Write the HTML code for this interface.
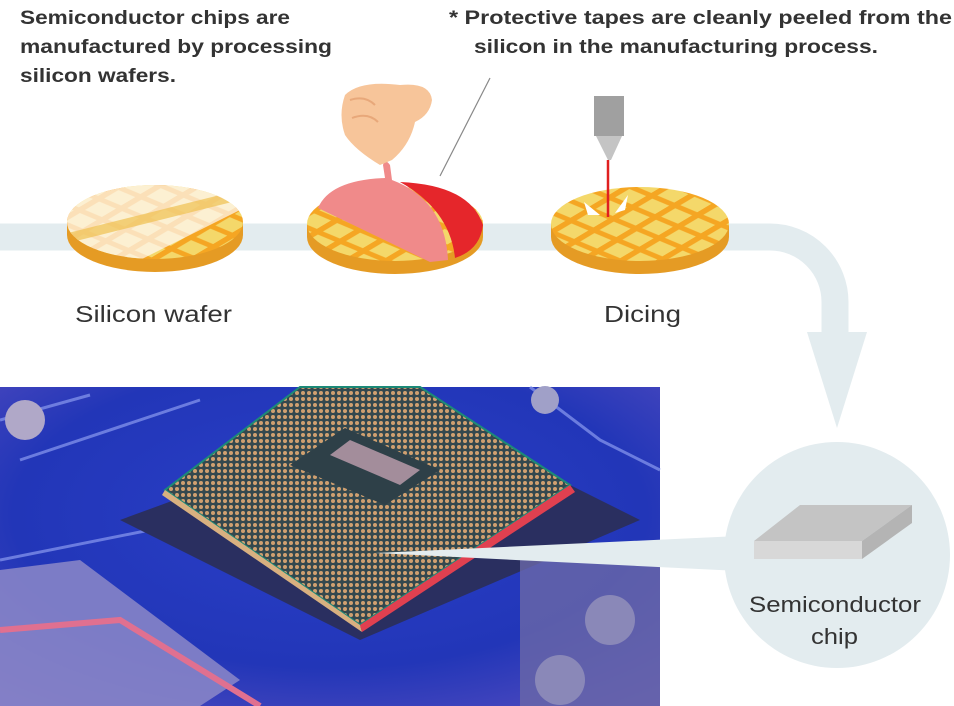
<!DOCTYPE html>
<html><head><meta charset="utf-8"><style>
body{margin:0;width:954px;height:706px;overflow:hidden;background:#fff;font-family:"Liberation Sans","DejaVu Sans",sans-serif}
svg{display:block}
</style></head><body>
<svg width="954" height="706" viewBox="0 0 954 706" xmlns="http://www.w3.org/2000/svg">
<defs>
<pattern id="grid" width="30" height="30" patternUnits="userSpaceOnUse" patternTransform="scale(1,0.5) rotate(40)">
<rect width="30" height="30" fill="#f5a623"/><rect x="5" y="5" width="22" height="22" fill="#f4d86a"/></pattern>
<pattern id="gridl" width="30" height="30" patternUnits="userSpaceOnUse" patternTransform="scale(1,0.5) rotate(40)">
<rect width="30" height="30" fill="#fbe0b8"/><rect x="5" y="5" width="22" height="22" fill="#fcf0d2"/></pattern>
<radialGradient id="bg" cx="0.5" cy="0.4" r="0.8"><stop offset="0" stop-color="#2a3fc8"/><stop offset="0.6" stop-color="#2236b8"/><stop offset="1" stop-color="#5a4fc0"/></radialGradient>
<pattern id="pins" width="6" height="6" patternUnits="userSpaceOnUse"><rect width="6" height="6" fill="#34484e"/><circle cx="3" cy="3" r="2" fill="#d0a070"/></pattern>
<clipPath id="c1"><ellipse cx="155" cy="222" rx="88" ry="37"/></clipPath>
<clipPath id="c2"><ellipse cx="395" cy="224" rx="88" ry="37"/></clipPath>
<clipPath id="c3"><ellipse cx="640" cy="224" rx="89" ry="37"/></clipPath>
</defs>
<path d="M0 237 H770 A65 65 0 0 1 835 302 V340" fill="none" stroke="#e3ecef" stroke-width="27"/>
<polygon points="807,332 867,332 837,428" fill="#e3ecef"/>
<circle cx="837" cy="555" r="113" fill="#e3ecef"/>
<rect x="0" y="387" width="660" height="319" fill="url(#bg)"/>
<path d="M0 420 L90 395 M20 460 L200 400 M530 387 L600 440 L660 470 M0 560 L150 530" stroke="#8a9af0" stroke-width="3" fill="none" opacity="0.7"/>
<polygon points="120,520 360,640 640,520 420,410" fill="#2a2f60"/>
<rect x="520" y="560" width="140" height="146" fill="#6a68a8" opacity="0.8"/>
<circle cx="610" cy="620" r="25" fill="#8a88b8"/><circle cx="560" cy="680" r="25" fill="#8a88b8"/>
<path d="M0 570 L80 560 L240 680 L200 706 L0 706Z" fill="#8c88c8" opacity="0.85"/>
<path d="M0 630 L120 620 L260 706" stroke="#e07090" stroke-width="6" fill="none"/>
<circle cx="25" cy="420" r="20" fill="#b0a8c8"/><circle cx="545" cy="400" r="14" fill="#a0a0c8"/>
<polygon points="420,387 570,485 360,625 165,490 300,387" fill="url(#pins)" stroke="#1c8a78" stroke-width="2"/>
<polygon points="165,490 360,625 362,632 162,495" fill="#d8b080"/>
<polygon points="360,625 570,485 575,492 362,632" fill="#e04050"/>
<polygon points="345,428 440,470 385,505 290,465" fill="#2e4048"/>
<polygon points="330,455 400,485 420,470 350,440" fill="#c0a0b0" opacity="0.8"/>
<polygon points="375,553 760,535 760,572" fill="#e3ecef"/>
<polygon points="754,541 800,505 912,505 862,541" fill="#c4c4c4"/>
<polygon points="754,541 862,541 862,559 754,559" fill="#d8d8d8"/>
<polygon points="862,541 912,505 912,523 862,559" fill="#b4b4b4"/>
<text x="749" y="612" font-size="22" fill="#333" textLength="172" lengthAdjust="spacingAndGlyphs">Semiconductor</text>
<text x="811" y="644" font-size="22" fill="#333" textLength="47" lengthAdjust="spacingAndGlyphs">chip</text>
<ellipse cx="155" cy="235" rx="88" ry="37" fill="#e59b24"/>
<rect x="67" y="222" width="176" height="13" fill="#e59b24"/>
<g clip-path="url(#c1)"><rect x="60" y="180" width="190" height="90" fill="url(#grid)"/>
<polygon points="60,180 250,180 250,205 120,270 60,270" fill="url(#gridl)"/>
<polygon points="60,235 240,190 240,200 60,245" fill="#f0c050" opacity="0.7"/></g>
<ellipse cx="395" cy="237" rx="88" ry="37" fill="#e59b24"/>
<rect x="307" y="224" width="176" height="13" fill="#e59b24"/>
<g clip-path="url(#c2)"><rect x="300" y="180" width="190" height="90" fill="url(#grid)"/></g>
<path d="M400 182 Q470 185 483 225 Q480 250 455 258 Q450 210 400 182Z" fill="#e5262b"/>
<path d="M318 208 Q330 180 385 178 L383 165 Q385 158 390 165 L392 180 Q445 200 448 260 L430 262 Z" fill="#f08a8a"/>
<path d="M345 95 Q360 80 400 85 Q430 82 432 100 Q430 115 415 122 Q410 145 392 160 L380 165 Q355 150 345 135 Q338 115 345 95Z" fill="#f7c59a"/>
<path d="M350 100 Q365 95 375 105 M352 118 Q368 112 378 122" stroke="#e8a87a" stroke-width="2" fill="none"/>
<line x1="440" y1="176" x2="490" y2="78" stroke="#888" stroke-width="1.2"/>
<ellipse cx="640" cy="237" rx="89" ry="37" fill="#e59b24"/>
<rect x="551" y="224" width="178" height="13" fill="#e59b24"/>
<g clip-path="url(#c3)"><rect x="545" y="180" width="190" height="90" fill="url(#grid)"/></g>
<rect x="594" y="96" width="30" height="40" fill="#a0a0a0"/>
<polygon points="596,136 622,136 611,160 608,160" fill="#c4c4c4"/>
<line x1="608" y1="160" x2="608" y2="217" stroke="#e02020" stroke-width="2.5"/>
<polygon points="584,202 600,215 588,215" fill="#fff"/><polygon points="628,195 615,213 625,210" fill="#fff"/>
<g font-size="19" font-weight="bold" fill="#333">
<text x="20" y="24" textLength="270" lengthAdjust="spacingAndGlyphs">Semiconductor chips are</text>
<text x="20" y="53" textLength="312" lengthAdjust="spacingAndGlyphs">manufactured by processing</text>
<text x="20" y="82" textLength="156" lengthAdjust="spacingAndGlyphs">silicon wafers.</text>
<text x="449" y="24" textLength="503" lengthAdjust="spacingAndGlyphs">* Protective tapes are cleanly peeled from the</text>
<text x="474" y="53" textLength="404" lengthAdjust="spacingAndGlyphs">silicon in the manufacturing process.</text>
</g>
<text x="75" y="322" font-size="23" fill="#333" textLength="157" lengthAdjust="spacingAndGlyphs">Silicon wafer</text>
<text x="604" y="322" font-size="23" fill="#333" textLength="77" lengthAdjust="spacingAndGlyphs">Dicing</text>
</svg>
</body></html>
